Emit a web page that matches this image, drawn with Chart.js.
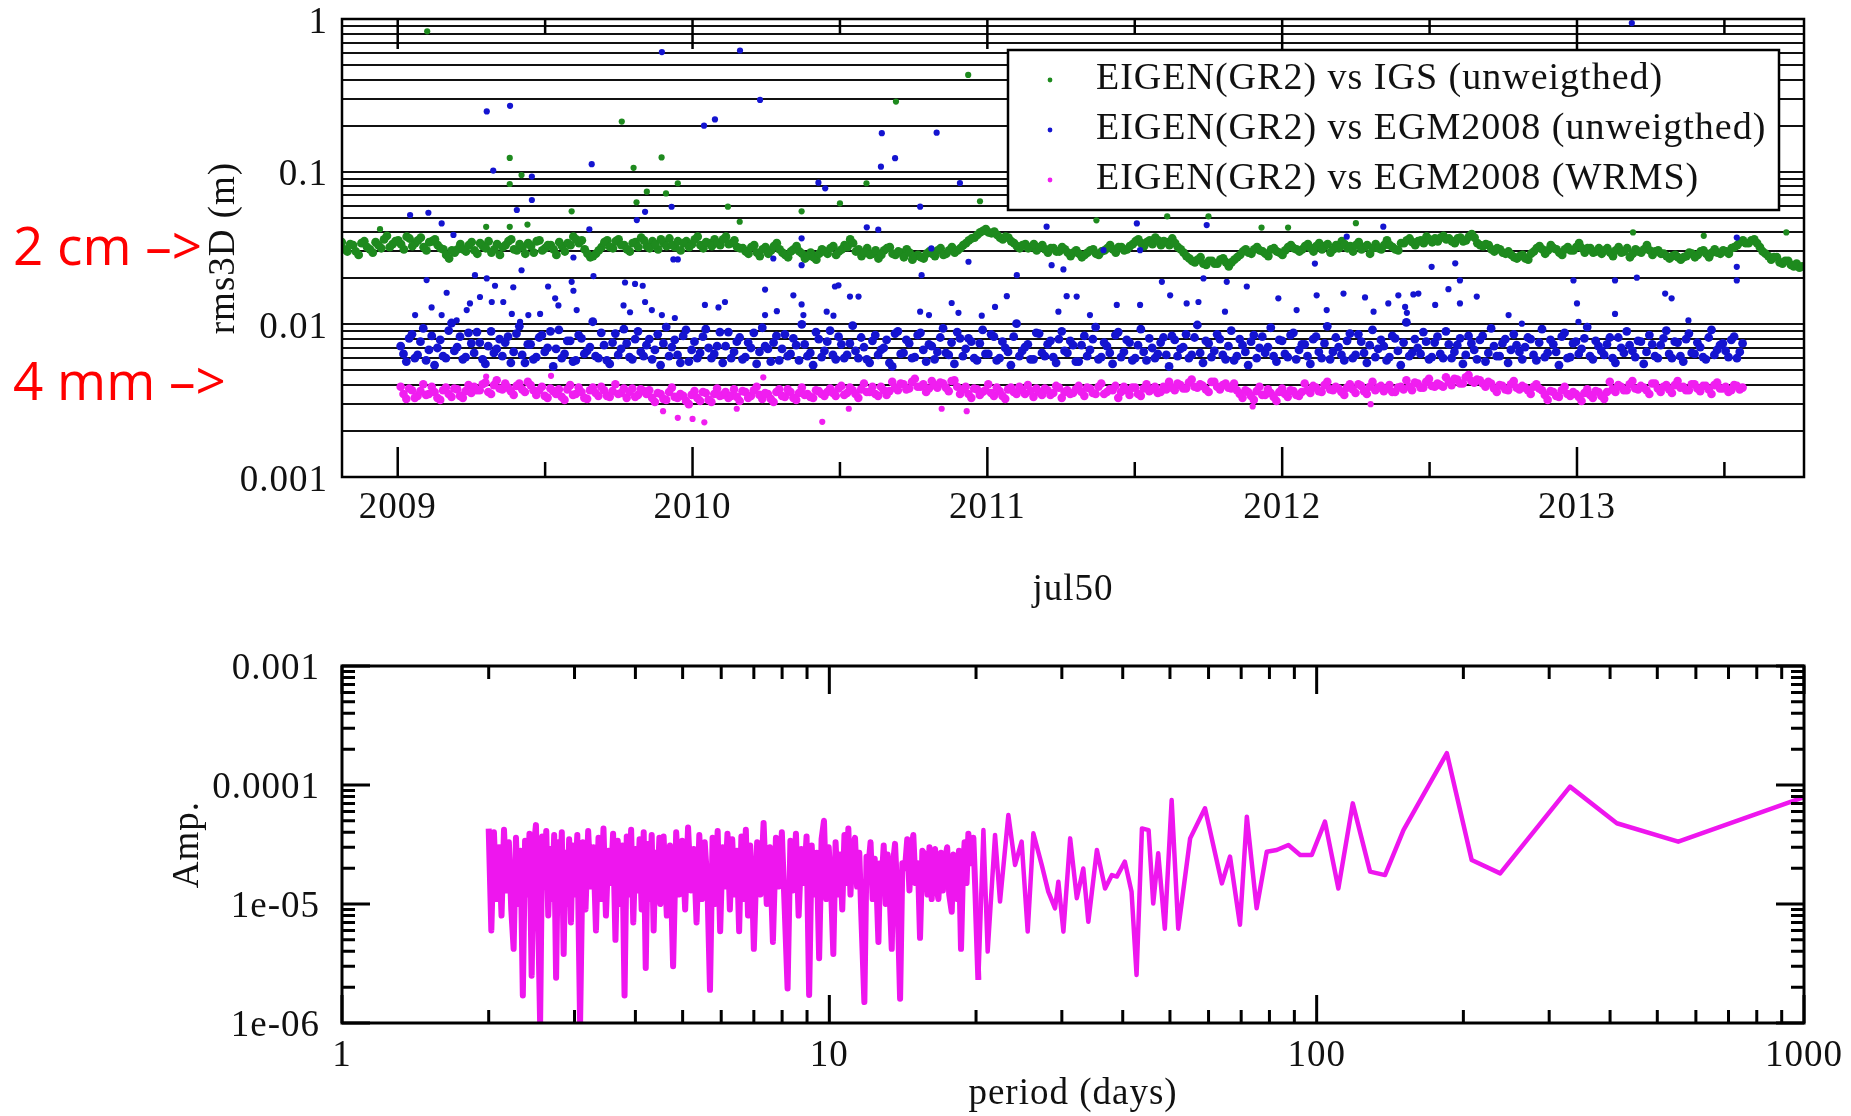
<!DOCTYPE html>
<html>
<head>
<meta charset="utf-8">
<script src="https://cdn.jsdelivr.net/npm/chart.js@4.4.1/dist/chart.umd.min.js"></script>
<style>
  body { margin: 0; background: #fff; width: 1851px; height: 1116px; overflow: hidden; position: relative; }
  #topChart { position: absolute; left: 0; top: 0; }
  #specChart { position: absolute; left: 0; top: 640px; }
</style>
</head>
<body>
<canvas id="topChart" width="1851" height="640"></canvas>
<canvas id="specChart" width="1851" height="476"></canvas>
<script>
// ---- top panel: rms3D, samples every half week (mm) ----
const igsStart = 2008.81;
const egmStart = 2009.01;
const WEEK = 7 / 365.25;

// samples at the start of each week
const igsMm = [34.5, 30, 33, 28.5, 35, 31,
  34.5, 31.5, 38, 33.5, 35.5, 31, 36.5, 34, 37, 30.5, 35, 33,
  31, 27, 29.5,
  33.5, 30, 34.5, 29, 32.5, 35, 31, 28.5, 33, 36, 30.5, 32, 34, 29.5, 35.5, 31.5, 33, 28.5, 32.5, 34,
  37.5, 34, 31, 27.5, 29,
  32, 35.5, 31.5, 36, 33, 30, 34.5, 37, 32.5, 35, 31, 34, 36.5, 32, 30.5, 35, 33.5, 37.5, 31.5, 34,
  36, 33, 37.5, 34, 32,
  31.5, 29, 33, 28, 32, 30.5, 34, 29.5, 27.5, 31, 30,
  27, 29.5, 26.5, 31, 29, 32.5, 30, 33, 36,
  30, 28, 31.5, 29, 27, 30.5, 32, 28.5, 29.5, 31,
  26.5, 28.5, 27, 30, 28, 31.5, 29, 32, 30.5,
  33, 35.5, 37, 40, 42, 39.5, 38.5, 36, 37,
  34, 31.5, 33.5, 32, 30.5, 33, 29.5, 31.5, 30, 31,
  28, 30.5, 27.5, 29.5, 31, 28.5, 30.5, 33, 29.5, 32, 31,
  33.5, 36, 32.5, 35.5, 37, 33, 34.5, 36.5, 32,
  29.5, 27, 25.5, 27.5, 24.5, 26, 25, 27, 24, 26.5,
  28.5, 31, 29, 32, 30, 28, 31.5, 29.5, 30.5, 33, 31,
  31, 33.5, 30, 34, 32.5, 29.5, 33, 35, 31.5, 30, 34.5, 32, 29, 33.5, 31, 35.5, 32, 30.5,
  34, 36.5, 33, 35.5, 37.5, 34.5, 35, 38, 36.5, 34, 37, 35.5, 39,
  34, 32.5, 33, 30, 31, 29, 28.5, 27, 28.5, 26.5,
  30, 32.5, 29, 33, 31, 28.5, 32, 30.5, 34, 29.5, 31.5, 30,
  29, 31.5, 28, 32, 30, 27.5, 31, 29.5, 33, 28.5, 30.5, 29,
  27, 28.5, 26.5, 28, 29, 28.5, 30.5, 27.5, 31, 29, 30, 31.5,
  33, 35.5, 34, 36, 32, 29, 26.5, 27.5, 25, 26, 24, 23.5];
// samples in the middle of each week
const igsMidMm = [31, 33.5, 30, 34, 32, 29.5,
  33, 36, 32, 35, 33.5, 37.5, 32.5, 35.5, 32, 34.5, 36, 31.5,
  28.5, 30.5, 31,
  31, 33, 30.5, 34, 31.5, 29.5, 33.5, 32, 35, 31, 33.5, 29, 32.5, 35, 30.5, 33, 31, 34.5, 30, 33,
  36, 35.5, 29, 28, 30.5,
  34.5, 32, 35, 33, 31, 34, 32, 35.5, 31.5, 33.5, 36, 32.5, 33, 35, 34, 32, 36, 33, 34.5, 32.5,
  34, 36, 33.5, 35.5, 31.5,
  30, 32, 29.5, 31, 29, 32.5, 31, 28.5, 30, 32.5, 29,
  28, 27.5, 29, 30, 31.5, 28.5, 31, 32, 34,
  31, 29.5, 28.5, 30.5, 28.5, 31.5, 29, 30, 27.5, 29.5,
  28, 27.5, 29, 29, 30.5, 28.5, 30.5, 29.5, 31.5,
  34, 36.5, 38.5, 41, 40, 40.5, 37, 37.5, 35,
  32.5, 33, 31.5, 33.5, 32, 31, 31.5, 30, 32, 29.5,
  29.5, 29, 28.5, 30.5, 29, 30, 31.5, 31, 32, 30.5, 32.5,
  35, 34, 34.5, 33.5, 35.5, 35, 33, 34, 31,
  28, 26, 26.5, 25, 26, 25, 26.5, 25.5, 25.5, 27.5,
  30, 29.5, 31, 30.5, 29, 31, 30, 28.5, 32, 31.5, 30,
  32.5, 31.5, 32.5, 31, 33.5, 31, 31.5, 33.5, 32.5, 33, 31, 33, 31.5, 31.5, 33, 33, 31, 34,
  35.5, 34.5, 35, 34, 36, 36.5, 37, 36, 35, 36.5, 35, 37.5, 37,
  33, 33.5, 31, 31.5, 29.5, 30, 27.5, 28, 27, 29,
  31.5, 31, 30.5, 31.5, 29.5, 31, 30.5, 32, 31.5, 31.5, 29.5, 31.5,
  30.5, 29.5, 30.5, 29.5, 31.5, 29, 30, 31, 30.5, 30, 29, 28,
  28, 27.5, 27.5, 29.5, 27.5, 30, 29, 29.5, 29.5, 30.5, 29, 32,
  34.5, 34, 35.5, 34, 30, 28, 27.5, 25.5, 26, 24.5, 25, 24];

const egmMm = [7.2, 5.7, 8.6, 6.3, 9.4, 6.8, 5.4, 7.9, 6.0, 10.2, 7.1, 5.9, 8.8, 6.5, 7.6, 5.5, 9.0, 6.9, 6.2, 8.3,
  6.6, 9.7, 5.6, 7.4, 6.1, 8.5, 7.0, 5.3, 9.2, 6.4, 7.8, 5.8, 8.1, 6.7, 10.4, 6.0, 7.3, 5.5, 8.7, 6.9,
  7.5, 5.9, 9.0, 6.2, 8.0, 6.8, 5.4, 9.6, 7.1, 6.3, 8.4, 5.7, 7.7, 6.5, 9.3, 6.0, 7.2, 5.6, 8.9, 6.6,
  8.2, 6.1, 7.0, 5.5, 9.5, 6.9, 7.6, 5.8, 8.6, 6.4, 7.3, 10.0, 6.2, 5.4, 8.0, 6.7, 9.1, 5.9, 7.4, 6.3,
  9.8, 6.0, 7.1, 5.6, 8.5, 6.8, 7.9, 5.3, 9.0, 6.5, 7.5, 6.1, 8.8, 5.7, 7.2, 6.6, 9.4, 6.3, 5.5, 8.1,
  6.9, 7.7, 5.8, 9.2, 6.4, 8.3, 6.0, 7.0, 5.4, 10.1, 6.7, 7.4, 5.9, 8.7, 6.2, 7.8, 5.6, 9.0, 6.5, 7.3,
  5.7, 8.4, 6.8, 9.6, 6.1, 7.2, 5.5, 8.9, 6.6, 7.6, 6.0, 9.3, 5.8, 7.0, 6.4, 8.2, 5.3, 7.9, 6.9, 8.6,
  6.3, 9.9, 5.6, 7.5, 6.7, 8.0, 5.9, 9.1, 6.2, 7.3, 5.4, 8.5, 7.0, 6.5, 9.5, 5.7, 7.8, 6.1, 8.8, 6.8,
  7.4, 5.5, 8.3, 6.0, 9.7, 6.6, 7.1, 5.8, 8.7, 6.3, 7.7, 5.6, 9.2, 6.9, 7.2, 6.1, 8.1, 5.4, 10.3, 6.5,
  7.0, 8.9, 5.9, 7.6, 6.4, 9.0, 6.0, 7.3, 5.5, 8.4, 6.8, 7.9, 5.7, 9.4, 6.2, 7.5, 5.6, 8.6, 6.6, 7.1,
  8.0, 5.8, 9.3, 6.5, 7.4, 5.4, 8.8, 6.1, 7.7, 6.9, 9.6, 5.9, 7.2, 6.3, 8.2, 5.6, 7.0, 9.0, 6.7, 7.8,
  5.5, 8.5, 6.2, 7.3, 9.1, 6.0, 7.6, 5.7, 8.7, 6.4, 7.1, 5.9, 9.2, 6.8, 7.5, 6.1, 8.3, 6.6];
const egmMidMm = [6.4, 8.1, 6.0, 7.7, 5.8, 8.4, 7.0, 6.2, 9.1, 6.7, 8.3, 6.1, 7.5, 8.9, 5.9, 7.2, 6.5, 8.0, 7.6, 5.6,
  8.7, 6.3, 7.4, 5.9, 8.2, 6.6, 9.0, 6.9, 6.0, 7.8, 5.7, 8.5, 6.4, 7.1, 6.2, 8.8, 5.8, 7.6, 6.3, 9.3,
  6.1, 8.0, 6.6, 7.3, 5.9, 8.6, 7.5, 6.2, 7.9, 5.6, 9.2, 6.8, 6.0, 8.3, 7.0, 6.4, 8.9, 7.2, 6.0, 7.7,
  5.9, 7.6, 8.8, 6.6, 7.2, 5.7, 8.4, 6.9, 6.2, 8.1, 5.8, 7.4, 6.5, 8.9, 6.1, 7.7, 6.3, 8.3, 6.0, 7.5,
  6.7, 8.2, 5.9, 7.8, 6.3, 7.0, 5.6, 8.7, 6.4, 7.9, 6.0, 8.5, 6.8, 7.4, 5.9, 8.2, 6.5, 7.6, 8.9, 6.2,
  8.1, 6.0, 7.5, 6.4, 8.6, 5.8, 7.7, 6.6, 8.3, 6.2, 7.1, 5.9, 8.8, 6.5, 7.4, 6.1, 8.0, 6.7, 7.8, 5.7,
  7.3, 6.2, 8.0, 5.9, 7.6, 6.5, 8.5, 6.1, 7.9, 5.8, 7.3, 6.6, 8.1, 6.0, 7.6, 6.3, 8.4, 6.2, 7.1, 6.0,
  8.2, 6.5, 7.8, 6.1, 8.6, 6.3, 7.2, 5.8, 8.0, 6.6, 7.7, 6.0, 8.3, 7.1, 6.2, 7.9, 6.4, 8.5, 5.9, 7.4,
  6.2, 8.0, 6.6, 7.5, 5.9, 8.2, 6.3, 7.8, 6.0, 8.6, 6.5, 7.3, 6.1, 7.9, 5.8, 8.4, 6.7, 7.6, 6.2, 8.0,
  6.4, 7.7, 6.1, 8.3, 6.0, 7.4, 6.6, 8.1, 6.3, 7.5, 5.9, 8.4, 6.5, 7.2, 6.2, 8.0, 6.8, 7.3, 5.9, 8.2,
  6.3, 7.6, 6.1, 7.9, 6.6, 8.3, 6.0, 7.5, 6.4, 8.1, 6.2, 7.8, 6.7, 7.4, 6.0, 8.2, 6.5, 7.3, 6.1, 7.7,
  6.6, 7.4, 6.0, 8.1, 6.4, 7.7, 6.2, 8.0, 6.5, 7.6, 6.1, 8.2, 6.3, 7.3, 6.7, 7.9, 6.0, 7.5];

const wrmsMm = [3.9, 3.25, 3.7, 3.4, 4.05, 3.5, 3.6, 3.2, 3.85, 3.35, 3.75, 3.3, 4.0,
  3.9, 3.7, 4.15, 3.5, 4.3, 3.75, 3.85, 3.45, 4.1, 3.6, 4.0,
  3.45, 3.9, 3.3, 3.65, 3.75, 3.2, 4.0, 3.5, 3.6, 3.25, 3.85, 3.4, 3.7, 3.35, 4.05, 3.55, 3.3, 3.8, 3.45, 3.65,
  3.7, 3.1, 3.5, 3.2, 3.85, 3.3, 3.4, 3.0, 3.65, 3.15, 3.55, 3.1, 3.8,
  3.45, 3.3, 3.75, 3.15, 3.6, 3.4, 3.9, 3.25, 3.5, 3.1, 3.75, 3.35, 3.6, 3.2, 3.85, 3.5, 3.3, 3.65, 3.4,
  3.8, 3.4, 3.95, 3.55, 3.7, 3.3, 4.1, 3.6, 3.5, 3.9, 3.45,
  4.2, 3.7, 4.05, 3.8, 4.4, 3.9, 3.6, 4.25, 3.85, 4.1, 3.65, 4.3,
  3.5, 3.9, 3.3, 3.75, 3.6, 4.05, 3.4, 3.65, 3.25, 3.85, 3.5, 3.7, 4.0, 3.35, 3.6, 3.8, 3.45, 3.95, 3.3, 3.7, 3.55,
  3.95, 3.4, 3.8, 3.5, 4.1, 3.6, 3.7, 3.3, 3.9, 3.45, 3.85, 3.4, 4.05, 3.75, 3.55, 3.9,
  4.2, 3.7, 4.0, 3.8, 4.35, 3.85, 3.95, 3.6, 4.2, 3.75, 4.1, 3.8,
  3.7, 3.3, 3.6, 3.2, 3.9, 3.45, 3.55, 3.15, 3.8, 3.35, 3.65, 3.4,
  4.1, 3.55, 3.85, 3.6, 4.2, 3.7, 3.8, 3.45, 4.05, 3.55, 3.95, 3.5, 4.2, 3.85, 3.65, 4.0, 3.6, 3.9,
  4.3, 3.7, 4.1, 3.85, 4.4, 3.9, 4.0,
  4.5, 4.0, 4.35, 4.1, 4.65, 4.15, 4.3, 3.9,
  4.1, 3.6, 3.95, 3.7, 4.25, 3.75, 3.85, 3.5, 4.05,
  3.7, 3.2, 3.6, 3.35, 3.9, 3.4, 3.5, 3.15, 3.75, 3.3, 3.6, 3.25,
  4.2, 3.6, 3.9, 3.7, 4.25, 3.75, 3.85, 3.5, 4.1, 3.6, 4.0, 3.55, 4.25, 3.9, 3.7, 4.05, 3.65, 3.95, 3.5, 4.15, 3.8, 3.6, 4.0, 3.75];
const wrmsMidMm = [3.5, 3.8, 3.3, 3.65, 3.45, 3.9, 3.3, 3.7, 3.5, 3.8, 3.4, 3.65, 3.55,
  3.7, 4.05, 3.6, 4.0, 3.8, 4.1, 3.65, 3.95, 3.75, 4.2, 3.7,
  3.7, 3.4, 3.8, 3.5, 3.35, 3.75, 3.45, 3.85, 3.3, 3.7, 3.55, 3.9, 3.4, 3.65, 3.5, 3.8, 3.6, 3.35, 3.75, 3.5,
  3.3, 3.55, 3.25, 3.6, 3.35, 3.5, 3.15, 3.45, 3.3, 3.6, 3.2, 3.5, 3.4,
  3.6, 3.4, 3.35, 3.65, 3.3, 3.7, 3.45, 3.55, 3.25, 3.6, 3.4, 3.75, 3.3, 3.55, 3.45, 3.35, 3.7, 3.5, 3.6,
  3.55, 3.8, 3.45, 3.85, 3.5, 3.75, 3.6, 3.9, 3.4, 3.7, 3.65,
  3.85, 4.1, 3.75, 4.2, 3.9, 4.05, 3.8, 4.0, 4.15, 3.85, 4.25, 3.9,
  3.75, 3.5, 3.8, 3.45, 3.7, 3.55, 3.85, 3.4, 3.75, 3.6, 3.9, 3.5, 3.65, 3.8, 3.45, 3.7, 3.55, 3.85, 3.6, 3.5, 3.75,
  3.6, 3.85, 3.55, 3.9, 3.5, 3.75, 3.95, 3.6, 3.7, 3.85, 3.5, 3.8, 3.65, 3.9, 3.6, 3.75,
  3.85, 4.1, 3.8, 4.15, 3.9, 4.05, 3.75, 4.2, 3.9, 4.0, 3.85, 4.1,
  3.5, 3.7, 3.4, 3.65, 3.45, 3.75, 3.35, 3.6, 3.5, 3.7, 3.45, 3.6,
  3.7, 3.95, 3.65, 4.0, 3.75, 3.9, 3.6, 3.85, 3.75, 4.05, 3.65, 3.9, 3.7, 3.95, 3.8, 3.6, 3.85, 3.75,
  3.9, 4.15, 3.85, 4.2, 3.95, 4.1, 3.9,
  4.2, 4.4, 4.1, 4.5, 4.25, 4.35, 4.1, 4.2,
  3.8, 4.0, 3.75, 4.05, 3.85, 3.95, 3.7, 3.9, 3.8,
  3.45, 3.65, 3.4, 3.7, 3.5, 3.6, 3.35, 3.55, 3.45, 3.65, 3.4, 3.6,
  3.75, 4.0, 3.7, 4.05, 3.8, 3.95, 3.7, 4.1, 3.8, 3.9, 3.75, 4.0, 3.85, 3.7, 4.05, 3.8, 3.95, 3.75, 4.0, 3.8, 3.9, 3.7, 3.95, 3.85];

// isolated points away from the bands (year, mm)
const igsOutT = [2009.10, 2009.76, 2009.38, 2009.895, 2009.80, 2009.42, 2009.38, 2009.845, 2009.81, 2009.59, 2009.30, 2009.38,
  2009.44, 2009.95, 2008.94, 2009.91, 2010.935, 2010.69, 2010.59, 2010.975, 2010.37, 2010.16, 2010.12, 2010.50,
  2011.37, 2011.61, 2011.75, 2011.93, 2012.02, 2012.25, 2013.71, 2013.19, 2013.43];
const igsOutMm = [830, 213, 123, 124, 106, 95, 83, 74, 63, 55, 43.5, 43.5,
  45, 84, 42, 72, 430, 288, 84, 64, 55, 47, 59, 62,
  48, 51, 51, 43, 43, 46, 40, 40, 38];

const egmOutT = [2009.059, 2009.115, 2009.149, 2009.166, 2009.098, 2009.20, 2009.234, 2009.245, 2009.262, 2009.279, 2009.302, 2009.319,
  2009.33, 2009.358, 2009.392, 2009.42, 2009.387, 2009.415, 2009.443, 2009.483, 2009.51, 2009.534, 2009.545, 2009.59,
  2009.596, 2009.607, 2009.664, 2009.771, 2009.805, 2009.831, 2009.766, 2009.788, 2009.839, 2009.862, 2009.896, 2009.94, 2010.042,
  2009.896, 2009.302, 2009.381, 2010.039, 2009.658, 2009.324, 2009.455, 2009.455, 2009.404, 2009.042, 2009.104, 2009.149,
  2009.839, 2009.929, 2009.811, 2009.650, 2009.189, 2009.935, 2009.596, 2009.95,
  2010.161, 2010.229, 2010.076, 2010.642, 2010.828, 2010.687, 2010.639, 2010.427, 2010.45, 2010.907, 2010.772, 2010.591,
  2010.63, 2010.37, 2011.201, 2011.218, 2011.258, 2010.777, 2011.1, 2010.81, 2010.936, 2010.274, 2010.37,
  2010.246, 2010.495, 2010.483, 2010.342, 2010.534, 2010.563, 2010.088, 2010.11, 2010.286, 2010.246, 2010.37, 2010.376,
  2010.455, 2010.478, 2010.772, 2010.802, 2010.879, 2010.902, 2010.981, 2011.026, 2011.066, 2011.241, 2011.269,
  2011.303, 2011.348, 2011.439, 2011.518, 2011.592, 2011.62, 2011.676, 2011.733, 2011.812, 2011.88, 2011.716, 2011.806,
  2011.987, 2012.049, 2012.117, 2012.151, 2012.208, 2012.281, 2012.36, 2012.394, 2012.417, 2012.445, 2012.462, 2012.423,
  2012.31, 2012.111, 2011.518, 2011.394, 2012.219, 2012.343, 2011.507, 2011.744, 2012.507,
  2013.186, 2012.587, 2012.603, 2012.564, 2012.66, 2012.603, 2012.519, 2012.768, 2013.0, 2012.988, 2013.129, 2013.203,
  2013.299, 2013.321, 2013.129, 2013.542, 2013.542, 2013.542, 2013.005, 2012.813, 2013.378];
const egmOutMm = [11.5, 12.9, 11.5, 16.1, 19.5, 10.6, 12.4, 13.7, 21.0, 15.1, 20.0, 14.0,
  17.9, 14.0, 17.5, 22.6, 11.7, 10.4, 11.5, 11.7, 17.7, 14.8, 13.3, 19.0,
  16.6, 12.4, 20.7, 18.8, 18.4, 17.9, 13.3, 12.0, 14.0, 12.4, 11.5, 11.0, 13.4,
  607, 248, 270, 200, 112, 101.6, 92.8, 65.2, 56.1, 52.0, 53.8, 45.8,
  54.6, 58.9, 48.2, 41.9, 38.5, 26.6, 27.4, 26.6,
  622, 295, 220, 178.6, 180, 122.5, 107.9, 84.7, 77.8, 84.3, 59, 43.2,
  41.7, 36.6, 43.6, 24.4, 22.9, 21, 21, 31.4, 25.7, 27, 24.4,
  16.9, 18.0, 17.7, 15.5, 15.2, 15.2, 12.9, 14.0, 12.2, 11.5, 13.5, 11.5,
  12.1, 11.4, 12.1, 11.5, 13.8, 11.9, 11.4, 13.0, 15.3, 12.1, 15.3,
  15.2, 11.5, 13.4, 13.4, 19.0, 15.5, 13.7, 20.0, 19.0, 17.7, 14.0, 12.1,
  14.8, 12.4, 15.5, 12.4, 15.9, 15.0, 13.7, 15.5, 13.0, 15.7, 15.9, 11.9,
  12.1, 25, 30.6, 30.6, 37.5, 43.6, 45.8, 44.7, 23.8,
  941, 25.1, 19.4, 17.0, 15.2, 13.7, 13.4, 11.5, 13.7, 19.4, 19.4, 20.2,
  15.9, 14.8, 11.7, 19.4, 23.8, 37.0, 10.4, 10.1, 10.6];

const wrmsOutT = [2009.95, 2010.04, 2010.0, 2010.44, 2010.15, 2010.845, 2010.93, 2010.53, 2009.52, 2010.24, 2009.3, 2011.9, 2012.3, 2009.9];
const wrmsOutMm = [2.44, 2.28, 2.4, 2.3, 2.8, 2.8, 2.7, 2.8, 4.6, 4.5, 4.55, 2.9, 3.0, 2.7];

const seriesLabels = ['EIGEN(GR2) vs IGS (unweigthed)', 'EIGEN(GR2) vs EGM2008 (unweigthed)', 'EIGEN(GR2) vs EGM2008 (WRMS)'];
const seriesColors = ['#1e8a1e', '#1414d0', '#f01ef0'];

const yearTicks = [2009, 2010, 2011, 2012, 2013];
const yearLabels = ['2009', '2010', '2011', '2012', '2013'];
const halfYearTicks = [2009.5, 2010.5, 2011.5, 2012.5, 2013.5];
const rmsMajor = [1, 0.1, 0.01, 0.001];
const rmsLabels = ['1', '0.1', '0.01', '0.001'];

const noteTexts = ['2 cm \u2013>', '4 mm \u2013>'];

// ---- bottom panel: amplitude spectrum of the WRMS series ----
const periodDays = [2.000, 2.025, 2.050, 2.075, 2.100, 2.125, 2.150, 2.175, 2.200, 2.225, 2.250, 2.275, 2.300, 2.325, 2.350, 2.375, 2.400, 2.425, 2.450, 2.475,
  2.500, 2.525, 2.550, 2.575, 2.600, 2.625, 2.650, 2.675, 2.700, 2.725, 2.750, 2.775, 2.800, 2.825, 2.850, 2.875, 2.900, 2.925, 2.950, 2.975,
  3.00, 3.04, 3.08, 3.12, 3.16, 3.20, 3.24, 3.28, 3.32, 3.36, 3.40, 3.44, 3.48, 3.52, 3.56, 3.60, 3.64, 3.68, 3.72, 3.76,
  3.80, 3.84, 3.88, 3.92, 3.96, 4.00, 4.04, 4.08, 4.12, 4.16, 4.20, 4.24, 4.28, 4.32, 4.36, 4.40, 4.44, 4.48,
  4.50, 4.57, 4.64, 4.71, 4.78, 4.85, 4.92, 4.99, 5.06, 5.13, 5.20, 5.27, 5.34, 5.41, 5.48, 5.55, 5.62, 5.69,
  5.76, 5.83, 5.90, 5.97, 6.04, 6.11, 6.18, 6.25, 6.32, 6.39, 6.46, 6.53, 6.60, 6.67, 6.74, 6.81, 6.88, 6.95,
  7.00, 7.11, 7.22, 7.33, 7.44, 7.55, 7.66, 7.77, 7.88, 7.99, 8.10, 8.21, 8.32, 8.43, 8.54, 8.65, 8.76, 8.87,
  8.98, 9.09, 9.20, 9.31, 9.42, 9.53, 9.64, 9.75, 9.86, 9.97, 10.08, 10.19, 10.30, 10.41, 10.52, 10.63, 10.74, 10.85,
  10.94, 11.05, 11.16, 11.29, 11.40, 11.52, 11.62, 11.80, 11.92, 12.03, 12.15, 12.27, 12.39, 12.50, 12.61, 12.71, 12.81, 12.93, 13.05, 13.17,
  13.30, 13.43, 13.54, 13.64, 13.80, 13.97, 14.12, 14.30, 14.45, 14.60, 14.75, 14.87, 15.02, 15.20, 15.35, 15.52, 15.72, 15.90, 16.05, 16.22,
  16.35, 16.48, 16.60, 16.74, 16.95, 17.10, 17.28, 17.45, 17.62, 17.83, 17.97, 18.11, 18.30, 18.45, 18.63, 18.80, 18.95, 19.12, 19.29, 19.50,
  19.75, 19.95, 20.22,
  20.71, 21.13, 21.88, 22.40, 23.30, 24.05, 24.81, 25.53, 26.22, 27.28, 28.14, 29.05, 29.51, 30.22, 31.2, 32.2, 33.2, 34.0, 35.4, 36.8,
  38.0, 38.9, 40.4, 41.7, 42.7, 43.8, 45.2, 46.2, 47.3, 48.8, 50.4, 52.0, 55.0, 59.0, 63.9, 66.4, 69.6, 71.9, 75.3, 79.0,
  82.8, 87.5, 92.5, 97.7, 104.0, 110.8, 118.6, 128.7, 138.1, 150.7, 185, 208, 238, 331, 413, 552, 1000];
// amplitude in units of 1e-6
const ampMicro = [43, 6, 40, 11, 30, 8, 42, 13, 33, 9, 4.2, 36, 10, 28, 1.7, 34, 12, 39, 2.5, 30,
  46, 9, 1.0, 37, 14, 41, 8, 29, 11, 38, 2.4, 33, 13, 40, 3.8, 27, 10, 35, 7, 31,
  12, 38, 1.0, 33, 9, 41, 14, 30, 6, 36, 11, 43, 8, 28, 15, 39, 5, 34, 10, 31,
  1.7, 37, 12, 42, 7, 29, 13, 35, 9, 40, 2.9, 32, 11, 38, 6, 27, 14, 36,
  10, 37, 8, 31, 3.0, 40, 12, 34, 9, 44, 13, 29, 7, 38, 11, 33, 15, 1.9,
  36, 10, 41, 5.9, 30, 14, 39, 9, 35, 12, 28, 5.9, 37, 11, 42, 8, 31, 13,
  4.2, 33, 12, 48, 10, 30, 4.8, 36, 14, 40, 9, 1.95, 34, 13, 39, 8, 29, 15,
  37, 1.72, 31, 12, 27, 3.5, 35, 50, 11, 30, 14, 3.8, 33, 12, 26, 9, 38, 15,
  43, 12, 30, 36, 14, 27, 9, 1.5, 25, 21, 33, 11, 24, 14, 4.8, 22, 16, 31, 10, 26,
  12, 4.2, 24, 32, 11, 1.6, 22, 20, 35, 13, 29, 38, 15, 22, 5.2, 28, 26, 12, 30, 11,
  24, 29, 14, 11, 27, 13, 24, 30, 12, 8.6, 26, 21, 11, 28, 4.2, 19, 33, 15, 39, 22,
  36, 12, 2.3,
  41.8, 3.98, 38.0, 10.5, 56, 21.3, 33.4, 5.86, 39.3, 21.3, 12.7, 9.2, 15.4, 5.86, 35.6, 11.2, 19.9, 7.1, 28.4, 13.5,
  17.5, 17.0, 22.7, 12.7, 2.53, 43.2, 41.8, 10.1, 26.7, 6.2, 74.8, 6.2, 35.6, 63.7, 14.9, 25.0, 6.7, 54.2, 9.2, 27.5,
  28.4, 31.3, 25.8, 25.8, 49.2, 13.5, 70.1, 18.7, 17.5, 41.8, 185, 23.4, 18.1, 96.9, 47.7, 33.4, 79];

const periodMajor = [1, 10, 100, 1000];
const periodLabels = ['1', '10', '100', '1000'];
const ampMajor = [1e-6, 1e-5, 1e-4, 1e-3];
const ampLabels = ['1e-06', '1e-05', '0.0001', '0.001'];

// ---- helpers ----
const FONT = "'Liberation Serif', 'Times New Roman', serif";
Chart.defaults.font.family = FONT;
Chart.defaults.font.size = 37;
Chart.defaults.color = '#111';

function weekly(start, vals, shift) { return vals.map((v, i) => ({ x: start + (i + shift) * WEEK, y: v / 1000 })); }
function pairs(ts, vals) { return ts.map((t, i) => ({ x: t, y: vals[i] / 1000 })); }
function sizes(nBand, rBand, nOut, rOut) { return Array(nBand).fill(rBand).concat(Array(nOut).fill(rOut)); }
function logMinors(majors) {
  const out = [];
  const top = Math.max(...majors);
  majors.forEach(m => {
    if (m === top) return;
    for (let k = 2; k <= 9; k++) out.push(k * m);
  });
  return out;
}
function labelFor(majors, labels) {
  return v => {
    const i = majors.findIndex(t => Math.abs(t - v) / t < 1e-6);
    return i >= 0 ? labels[i] : '';
  };
}
// keep the plot frame where the reference has it
function fixY(w) { return s => { s.width = w; s.paddingTop = 0; s.paddingBottom = 0; }; }
function fixX(h) { return s => { s.height = h; s.paddingLeft = 0; s.paddingRight = 0; }; }

const spacing = { id: 'spacing', beforeDraw(chart) { chart.ctx.letterSpacing = '1px'; } };

const insideTicks = {
  id: 'insideTicks',
  afterDatasetsDraw(chart, args, o) {
    const { ctx, chartArea: a, scales } = chart;
    ctx.save();
    ctx.strokeStyle = '#000';
    ctx.lineWidth = o.width;
    ctx.beginPath();
    const xt = (vals, len) => vals.forEach(v => {
      const px = scales.x.getPixelForValue(v);
      ctx.moveTo(px, a.bottom); ctx.lineTo(px, a.bottom - len);
      ctx.moveTo(px, a.top); ctx.lineTo(px, a.top + len);
    });
    const yt = (vals, len) => vals.forEach(v => {
      const py = scales.y.getPixelForValue(v);
      ctx.moveTo(a.left, py); ctx.lineTo(a.left + len, py);
      ctx.moveTo(a.right, py); ctx.lineTo(a.right - len, py);
    });
    xt(o.xMajor, o.major); xt(o.xMinor, o.minor);
    yt(o.yMajor, o.major); yt(o.yMinor, o.minor);
    ctx.stroke();
    ctx.lineWidth = o.frame;
    ctx.strokeRect(a.left, a.top, a.width, a.height);
    ctx.restore();
  }
};

const boxLegend = {
  id: 'boxLegend',
  afterDraw(chart, args, o) {
    const ctx = chart.ctx;
    ctx.save();
    ctx.fillStyle = '#fff';
    ctx.fillRect(o.x, o.y, o.w, o.h);
    ctx.strokeStyle = '#000';
    ctx.lineWidth = 2.5;
    ctx.strokeRect(o.x, o.y, o.w, o.h);
    ctx.font = '38px ' + FONT;
    ctx.textBaseline = 'alphabetic';
    ctx.textAlign = 'left';
    chart.data.datasets.forEach((ds, i) => {
      const base = o.y + o.first + i * o.gap;
      ctx.fillStyle = ds.backgroundColor;
      ctx.beginPath();
      ctx.arc(o.x + o.dotX, base - 9, 2.4, 0, Math.PI * 2);
      ctx.fill();
      ctx.fillStyle = '#111';
      ctx.fillText(ds.label, o.x + o.textX, base);
    });
    ctx.restore();
  }
};

const notes = {
  id: 'notes',
  afterDraw(chart, args, o) {
    const ctx = chart.ctx;
    ctx.save();
    ctx.letterSpacing = '0px';
    ctx.font = "53px 'Open Sans', 'Noto Sans', sans-serif";
    ctx.fillStyle = '#f00';
    ctx.textBaseline = 'alphabetic';
    ctx.textAlign = 'left';
    noteTexts.forEach((t, i) => ctx.fillText(t, o.x, o.baselines[i]));
    ctx.restore();
  }
};

// ---- top chart ----
const rmsGrid = logMinors(rmsMajor).concat(rmsMajor);

const igsData = weekly(igsStart, igsMm, 0).concat(weekly(igsStart, igsMidMm, 0.5), pairs(igsOutT, igsOutMm));
const egmData = weekly(egmStart, egmMm, 0).concat(weekly(egmStart, egmMidMm, 0.5), pairs(egmOutT, egmOutMm));
const wrmsData = weekly(egmStart, wrmsMm, 0).concat(weekly(egmStart, wrmsMidMm, 0.5), pairs(wrmsOutT, wrmsOutMm));

new Chart(document.getElementById('topChart'), {
  type: 'scatter',
  data: {
    datasets: [
      { label: seriesLabels[0], data: igsData, backgroundColor: seriesColors[0],
        pointRadius: sizes(igsMm.length + igsMidMm.length, 4.4, igsOutT.length, 3.1), order: 3 },
      { label: seriesLabels[1], data: egmData, backgroundColor: seriesColors[1],
        pointRadius: sizes(egmMm.length + egmMidMm.length, 4.4, egmOutT.length, 3.1), order: 2 },
      { label: seriesLabels[2], data: wrmsData, backgroundColor: seriesColors[2],
        pointRadius: sizes(wrmsMm.length + wrmsMidMm.length, 4.3, wrmsOutT.length, 3.1), order: 1 }
    ]
  },
  options: {
    responsive: false,
    animation: false,
    devicePixelRatio: 1,
    layout: { padding: { left: 0, right: 47, top: 19, bottom: 0 } },
    elements: { point: { borderWidth: 0, hoverRadius: 3 } },
    plugins: {
      legend: { display: false },
      tooltip: { enabled: false },
      insideTicks: { xMajor: yearTicks, xMinor: halfYearTicks, yMajor: [], yMinor: [], major: 30, minor: 15, width: 2.5, frame: 2.5 },
      boxLegend: { x: 1008, y: 50, w: 771, h: 160, first: 39, gap: 50, dotX: 42, textX: 88 },
      notes: { x: 13, baselines: [265, 400] }
    },
    scales: {
      x: {
        type: 'linear', min: 2008.811, max: 2013.77,
        afterBuildTicks: s => { s.ticks = yearTicks.map(v => ({ value: v })); },
        afterFit: fixX(163),
        ticks: { autoSkip: false, maxRotation: 0, padding: 1, callback: labelFor(yearTicks, yearLabels) },
        grid: { display: false },
        border: { display: false },
        title: { display: true, text: 'jul50', padding: { top: 0, bottom: 28 } }
      },
      y: {
        type: 'logarithmic', min: 0.001, max: 1,
        afterBuildTicks: s => { s.ticks = rmsGrid.map(v => ({ value: v })); },
        afterFit: fixY(342),
        ticks: { autoSkip: false, padding: 14, labelOffset: 4, callback: labelFor(rmsMajor, rmsLabels) },
        grid: { color: '#111', lineWidth: 2, drawTicks: false },
        border: { display: false },
        title: { display: true, text: 'rms3D (m)', padding: { top: 202, bottom: 0 } }
      }
    }
  },
  plugins: [spacing, insideTicks, boxLegend, notes]
});

// ---- spectrum chart ----
new Chart(document.getElementById('specChart'), {
  type: 'scatter',
  data: {
    datasets: [{
      label: 'WRMS spectrum',
      data: periodDays.map((p, i) => ({ x: p, y: ampMicro[i] * 1e-6 })),
      showLine: true,
      borderColor: '#ee16ee',
      borderWidth: 4.5,
      borderJoinStyle: 'round',
      segment: { borderWidth: c => (c.p0.parsed.x < 20 ? 6 : 4.5) },
      pointRadius: 0,
      pointHoverRadius: 0
    }]
  },
  options: {
    responsive: false,
    animation: false,
    devicePixelRatio: 1,
    layout: { padding: { left: 0, right: 47, top: 26, bottom: 0 } },
    plugins: {
      legend: { display: false },
      tooltip: { enabled: false },
      insideTicks: { xMajor: periodMajor, xMinor: logMinors(periodMajor), yMajor: ampMajor, yMinor: logMinors(ampMajor), major: 28, minor: 13, width: 3, frame: 3 }
    },
    scales: {
      x: {
        type: 'logarithmic', min: 1, max: 1000,
        afterBuildTicks: s => { s.ticks = periodMajor.map(v => ({ value: v })); },
        afterFit: fixX(93),
        ticks: { autoSkip: false, maxRotation: 0, padding: 3, callback: labelFor(periodMajor, periodLabels) },
        grid: { display: false },
        border: { display: false },
        title: { display: true, text: 'period (days)', padding: { top: 0, bottom: 0 } }
      },
      y: {
        type: 'logarithmic', min: 1e-6, max: 1e-3,
        afterBuildTicks: s => { s.ticks = ampMajor.map(v => ({ value: v })); },
        afterFit: fixY(342),
        ticks: { autoSkip: false, padding: 14, labelOffset: 3, callback: labelFor(ampMajor, ampLabels) },
        grid: { display: false },
        border: { display: false },
        title: { display: true, text: 'Amp.', padding: { top: 166, bottom: 0 } }
      }
    }
  },
  plugins: [spacing, insideTicks]
});
</script>
</body>
</html>
